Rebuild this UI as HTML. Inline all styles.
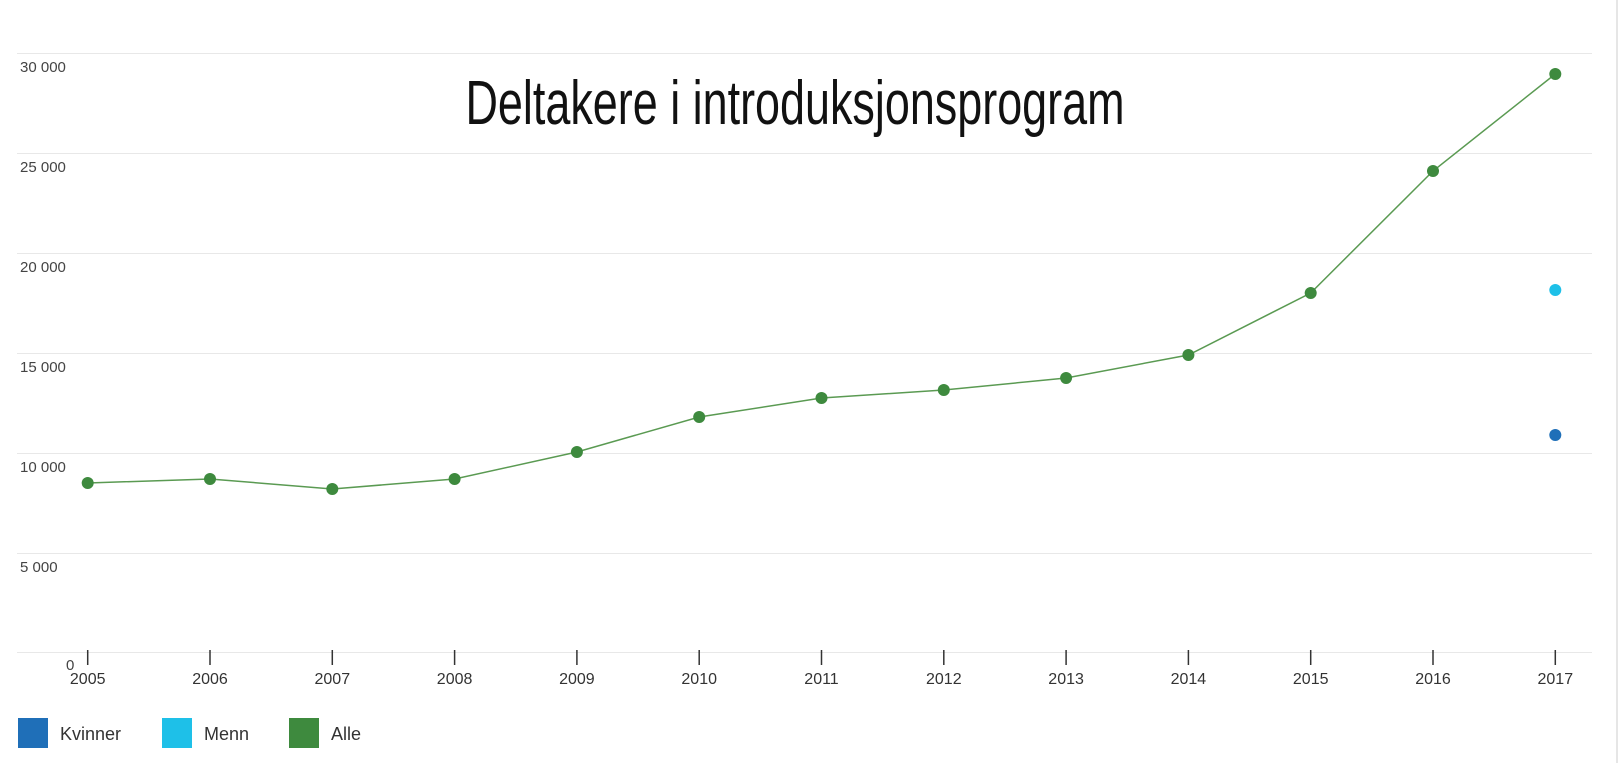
<!DOCTYPE html>
<html><head><meta charset="utf-8"><style>
html,body{margin:0;padding:0;background:#fff;}
svg{display:block;}
</style></head><body>
<svg width="1620" height="763" xmlns="http://www.w3.org/2000/svg" font-family="Liberation Sans, Arial, sans-serif">
<rect width="1620" height="763" fill="#fff"/>
<line x1="1617" y1="0" x2="1617" y2="763" stroke="#ccc" stroke-width="1"/>
<g stroke="#e8e8e8" stroke-width="1">
<line x1="17" y1="53.5" x2="1592" y2="53.5"/>
<line x1="17" y1="153.5" x2="1592" y2="153.5"/>
<line x1="17" y1="253.5" x2="1592" y2="253.5"/>
<line x1="17" y1="353.5" x2="1592" y2="353.5"/>
<line x1="17" y1="453.5" x2="1592" y2="453.5"/>
<line x1="17" y1="553.5" x2="1592" y2="553.5"/>
<line x1="17" y1="652.5" x2="1592" y2="652.5"/>
</g>
<g fill="#444" font-size="15">
<text x="20" y="72">30 000</text>
<text x="20" y="172">25 000</text>
<text x="20" y="272">20 000</text>
<text x="20" y="372">15 000</text>
<text x="20" y="472">10 000</text>
<text x="20" y="572">5 000</text>
<text x="66" y="670">0</text>
</g>
<text x="795" y="124" text-anchor="middle" font-size="62" fill="#111" textLength="659" lengthAdjust="spacingAndGlyphs">Deltakere i introduksjonsprogram</text>
<g stroke="#333" stroke-width="1.5">
<line x1="87.7" y1="650" x2="87.7" y2="665"/><line x1="210" y1="650" x2="210" y2="665"/><line x1="332.3" y1="650" x2="332.3" y2="665"/><line x1="454.6" y1="650" x2="454.6" y2="665"/><line x1="576.9" y1="650" x2="576.9" y2="665"/><line x1="699.2" y1="650" x2="699.2" y2="665"/><line x1="821.5" y1="650" x2="821.5" y2="665"/><line x1="943.8" y1="650" x2="943.8" y2="665"/><line x1="1066.1" y1="650" x2="1066.1" y2="665"/><line x1="1188.4" y1="650" x2="1188.4" y2="665"/><line x1="1310.7" y1="650" x2="1310.7" y2="665"/><line x1="1433" y1="650" x2="1433" y2="665"/><line x1="1555.3" y1="650" x2="1555.3" y2="665"/>
</g>
<g fill="#333" font-size="16" text-anchor="middle">
<text x="87.7" y="684">2005</text><text x="210" y="684">2006</text><text x="332.3" y="684">2007</text><text x="454.6" y="684">2008</text><text x="576.9" y="684">2009</text><text x="699.2" y="684">2010</text><text x="821.5" y="684">2011</text><text x="943.8" y="684">2012</text><text x="1066.1" y="684">2013</text><text x="1188.4" y="684">2014</text><text x="1310.7" y="684">2015</text><text x="1433" y="684">2016</text><text x="1555.3" y="684">2017</text>
</g>
<polyline fill="none" stroke="#5a9a52" stroke-width="1.5" points="87.7,483 210,479 332.3,489 454.6,479 576.9,452 699.2,417 821.5,398 943.8,390 1066.1,378 1188.4,355 1310.7,293 1433,171 1555.3,74"/>
<g fill="#3e8a3e">
<circle cx="87.7" cy="483" r="6"/><circle cx="210" cy="479" r="6"/><circle cx="332.3" cy="489" r="6"/><circle cx="454.6" cy="479" r="6"/><circle cx="576.9" cy="452" r="6"/><circle cx="699.2" cy="417" r="6"/><circle cx="821.5" cy="398" r="6"/><circle cx="943.8" cy="390" r="6"/><circle cx="1066.1" cy="378" r="6"/><circle cx="1188.4" cy="355" r="6"/><circle cx="1310.7" cy="293" r="6"/><circle cx="1433" cy="171" r="6"/><circle cx="1555.3" cy="74" r="6"/>
</g>
<circle cx="1555.3" cy="290" r="6" fill="#1ec0e8"/>
<circle cx="1555.3" cy="435" r="6" fill="#1f6fb8"/>
<rect x="18" y="718" width="30" height="30" fill="#1f6fb8"/>
<text x="60" y="740" font-size="18" fill="#333">Kvinner</text>
<rect x="162" y="718" width="30" height="30" fill="#1ec0e8"/>
<text x="204" y="740" font-size="18" fill="#333">Menn</text>
<rect x="289" y="718" width="30" height="30" fill="#3e8a3e"/>
<text x="331" y="740" font-size="18" fill="#333">Alle</text>
</svg>
</body></html>
